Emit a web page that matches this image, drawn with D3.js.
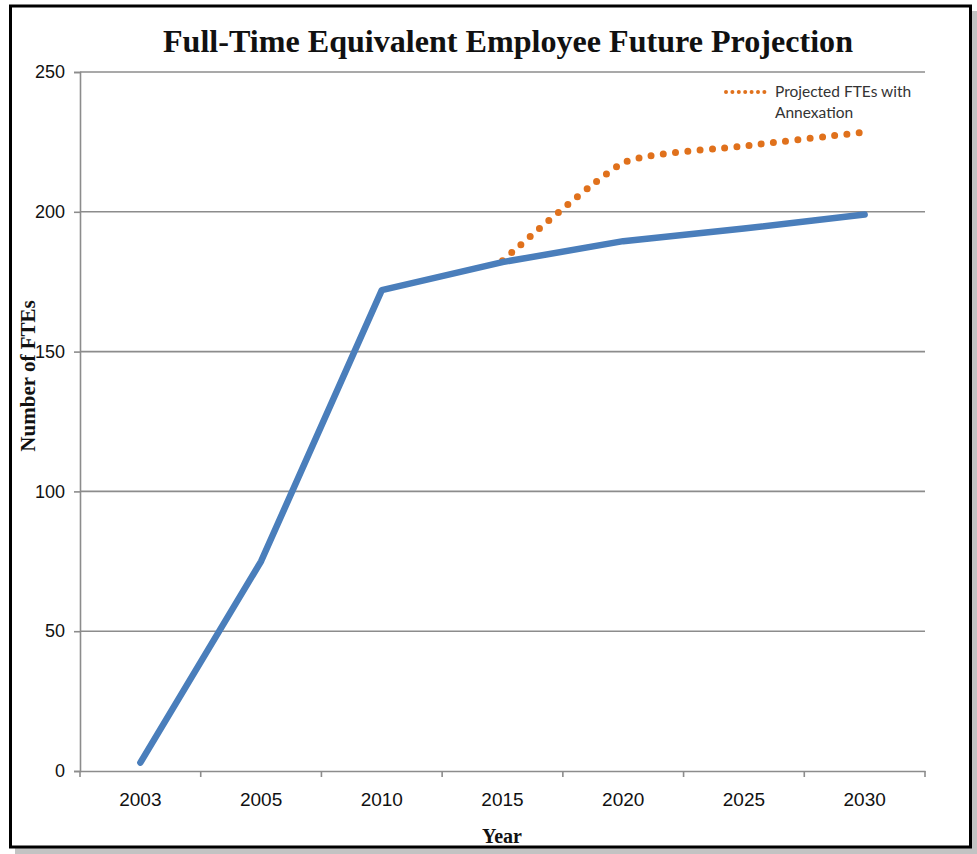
<!DOCTYPE html>
<html>
<head>
<meta charset="utf-8">
<script src="https://cdn.jsdelivr.net/npm/d3@7"></script>
<style>
  html, body { margin: 0; padding: 0; background: #fff; }
  svg { display: block; }
</style>
</head>
<body>
<svg id="chart" width="977" height="854"></svg>
<script>
// Years shown on the category axis
const years = ["2003", "2005", "2010", "2015", "2020", "2025", "2030"];
// Full-time equivalent employees, current trend
const fteValues = [3, 75, 172, 182, 189.5, 194, 199];
// Projected FTEs if annexation goes ahead (from 2015 on)
const annexYears = ["2015", "2020", "2025", "2030"];
const annexValues = [182.5, 217.5, 223.5, 228.5];
// Value axis ticks
const yTicks = [0, 50, 100, 150, 200, 250];

const svg = d3.select("#chart");

// Frame with drop shadow
svg.append("rect").attr("x", 15).attr("y", 11).attr("width", 962).attr("height", 843).attr("fill", "#c3c3c3");
svg.append("rect").attr("x", 10.5).attr("y", 6).attr("width", 960).attr("height", 841)
  .attr("fill", "#fff").attr("stroke", "#000").attr("stroke-width", 3);

const plotLeft = 80, plotRight = 925, plotTop = 72, plotBottom = 771;

const x = d3.scaleBand().domain(years).range([plotLeft, plotRight]);
const y = d3.scaleLinear().domain([0, 250]).range([plotBottom, plotTop]);

const gridColor = "#8c8c8c";

// Horizontal gridlines
svg.append("g").selectAll("line").data(yTicks.filter(d => d > 0)).join("line")
  .attr("x1", plotLeft).attr("x2", plotRight)
  .attr("y1", d => y(d)).attr("y2", d => y(d))
  .attr("stroke", gridColor).attr("stroke-width", 1.6);

// Value axis
const yAxis = svg.append("g").attr("transform", `translate(${plotLeft},0)`)
  .call(d3.axisLeft(y).tickValues(yTicks).tickSize(6).tickPadding(9));
yAxis.select(".domain").attr("stroke", gridColor).attr("stroke-width", 1.6);
yAxis.selectAll(".tick line").attr("stroke", gridColor).attr("stroke-width", 1.6);
yAxis.selectAll(".tick text").attr("font-family", "Liberation Sans, Arial, sans-serif")
  .attr("font-size", 18).attr("fill", "#111");

// Category axis: ticks sit on the band boundaries
const xAxis = svg.append("g").attr("transform", `translate(0,${plotBottom})`)
  .call(d3.axisBottom(x).tickSize(0).tickPadding(22));
xAxis.select(".domain").attr("stroke", gridColor).attr("stroke-width", 1.6);
xAxis.selectAll(".tick text").attr("font-family", "Liberation Sans, Arial, sans-serif")
  .attr("font-size", 19).attr("fill", "#111");
const boundaries = years.map(d => x(d)).concat([x(years[years.length - 1]) + x.bandwidth()]);
svg.append("g").selectAll("line").data(boundaries).join("line")
  .attr("x1", d => d).attr("x2", d => d)
  .attr("y1", plotBottom).attr("y2", plotBottom + 6)
  .attr("stroke", gridColor).attr("stroke-width", 1.6);

const cx = d => x(d) + x.bandwidth() / 2;

// Projected series: smoothed dotted line
const annexLine = d3.line()
  .x((d, i) => cx(annexYears[i]))
  .y(d => y(d))
  .curve(d3.curveCardinal.tension(0.45));
svg.append("path").datum(annexValues)
  .attr("d", annexLine)
  .attr("fill", "none").attr("stroke", "#e0711c").attr("stroke-width", 7)
  .attr("stroke-linecap", "round").attr("stroke-dasharray", "0 12.3");

// Current trend: solid line
const fteLine = d3.line()
  .x((d, i) => cx(years[i]))
  .y(d => y(d));
svg.append("path").datum(fteValues)
  .attr("d", fteLine)
  .attr("fill", "none").attr("stroke", "#4a7ebb").attr("stroke-width", 6.5)
  .attr("stroke-linecap", "round").attr("stroke-linejoin", "round");

// Title
svg.append("text").attr("x", 508).attr("y", 52).attr("text-anchor", "middle")
  .attr("font-family", "Liberation Serif, Times New Roman, serif").attr("font-weight", "bold")
  .attr("font-size", 32).attr("fill", "#111")
  .attr("textLength", 690).attr("lengthAdjust", "spacingAndGlyphs")
  .text("Full-Time Equivalent Employee Future Projection");

// Axis titles
svg.append("text").attr("transform", "translate(35,376) rotate(-90)").attr("text-anchor", "middle")
  .attr("font-family", "Liberation Serif, Times New Roman, serif").attr("font-weight", "bold")
  .attr("font-size", 21).attr("fill", "#111").text("Number of FTEs");
svg.append("text").attr("x", 502).attr("y", 843).attr("text-anchor", "middle")
  .attr("font-family", "Liberation Serif, Times New Roman, serif").attr("font-weight", "bold")
  .attr("font-size", 20).attr("fill", "#111").text("Year");

// Legend
const lg = svg.append("g");
lg.append("line").attr("x1", 726).attr("x2", 765).attr("y1", 92).attr("y2", 92)
  .attr("stroke", "#e0711c").attr("stroke-width", 4).attr("stroke-linecap", "round")
  .attr("stroke-dasharray", "0 6.4");
lg.append("text").attr("x", 775).attr("y", 97)
  .attr("font-family", "Lato, Open Sans, sans-serif").attr("font-size", 15.5).attr("fill", "#333")
  .text("Projected FTEs with");
lg.append("text").attr("x", 775).attr("y", 118)
  .attr("font-family", "Lato, Open Sans, sans-serif").attr("font-size", 15.5).attr("fill", "#333")
  .text("Annexation");
</script>
</body>
</html>
